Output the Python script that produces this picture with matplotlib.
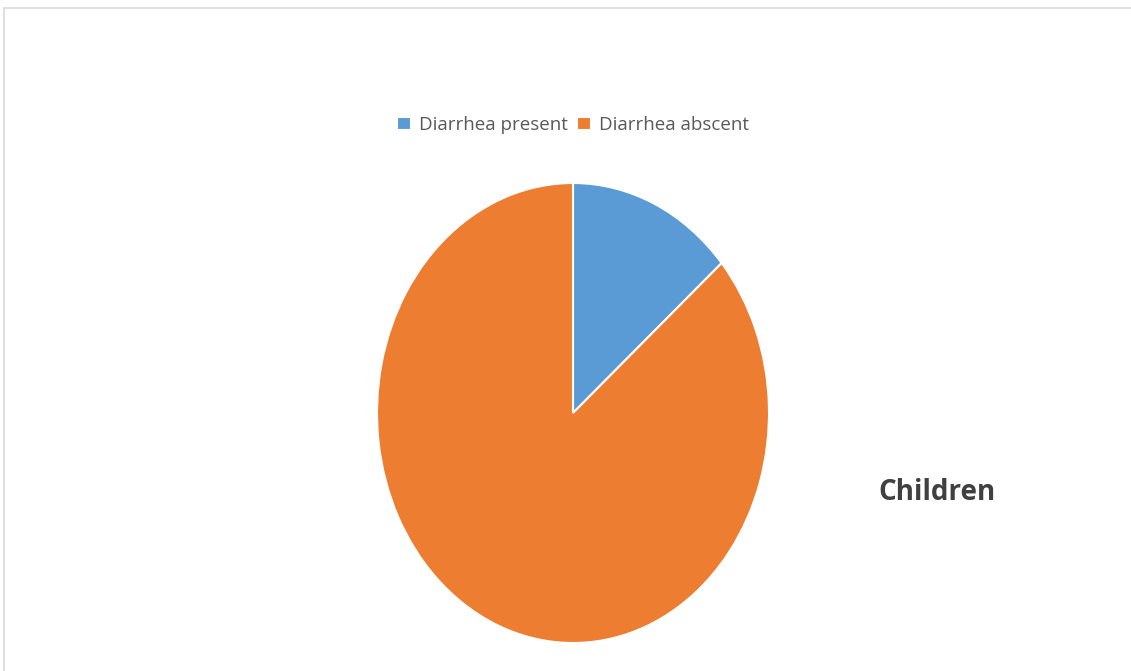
import matplotlib.pyplot as plt
from matplotlib.patches import Rectangle

labels = ["Diarrhea present", "Diarrhea abscent"]
values = [13.7, 86.3]
colors = ["#5B9BD5", "#ED7D31"]

fig = plt.figure(figsize=(11.31, 6.71), dpi=100)
fig.patch.set_facecolor("white")

# light frame like the original chart area (top and left edges only visible)
fig.patches.append(Rectangle((4 / 1131, -0.01), 1.1, (671 - 8) / 671 + 0.01,
                             transform=fig.transFigure, fill=False,
                             edgecolor="#D9D9D9", linewidth=1.2))

ax = fig.add_axes([377 / 1131, 28 / 671, 392 / 1131, 460 / 671])
wedges, _ = ax.pie(values, colors=colors, startangle=90, counterclock=False,
                   wedgeprops=dict(edgecolor="white", linewidth=1.5))
ax.set_aspect("auto")
ax.set_xlim(-1, 1)
ax.set_ylim(-1, 1)

fig.legend(wedges, labels, loc="center", bbox_to_anchor=(573 / 1131, 1 - 125 / 671),
           ncol=2, frameon=False, handlelength=0.75, handleheight=0.75,
           handletextpad=0.4, columnspacing=0.5,
           prop={"family": "Open Sans", "size": 13.5}, labelcolor="#595959")

fig.text(937 / 1131, 1 - 493 / 671, "Children", ha="center", va="center",
         fontsize=20, fontweight="bold", family="Open Sans", color="#404040")

fig.savefig("out.png", dpi=100)
